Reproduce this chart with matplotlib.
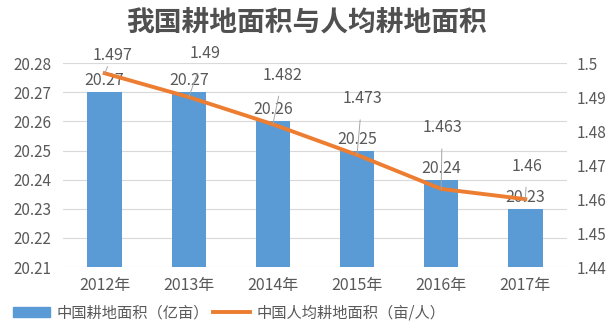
import numpy as np
import matplotlib
matplotlib.use("Agg")
import matplotlib.pyplot as plt

plt.rcParams['font.family'] = ['Noto Sans CJK SC', 'DejaVu Sans']

# data
years = ['2012年', '2013年', '2014年', '2015年', '2016年', '2017年']
area = [20.27, 20.27, 20.26, 20.25, 20.24, 20.23]          # 亿亩
per_capita = [1.497, 1.49, 1.482, 1.473, 1.463, 1.46]       # 亩/人
area_ticks = [20.21, 20.22, 20.23, 20.24, 20.25, 20.26, 20.27, 20.28]
pc_ticks = [1.44, 1.45, 1.46, 1.47, 1.48, 1.49, 1.5]

# label offsets for the line labels (pixels)
line_lbl_off = [(8, 18), (16, 44), (10, 49), (5, 56), (1, 61), (2, 33)]

blue = '#5B9BD5'
orange = '#ED7D31'
txt = '#595959'

fig = plt.figure(figsize=(6.14, 3.25), dpi=100)
ax = fig.add_axes([0.102, 0.178, 0.822, 0.628])
ax2 = ax.twinx()

x = np.arange(len(years))
ax.bar(x, area, width=0.41, color=blue, zorder=2)
ax.set_ylim(20.21, 20.28)
ax.set_yticks(area_ticks)
ax.set_yticklabels([f'{v:.2f}' for v in area_ticks])
ax.set_xlim(-0.5, len(years) - 0.5)
ax.set_xticks(x)
ax.set_xticklabels(years)
ax.grid(axis='y', color='#D9D9D9', linewidth=0.8, zorder=0)
ax.set_axisbelow(True)

ax2.plot(x, per_capita, color=orange, linewidth=2.8, zorder=3)
ax2.set_ylim(1.44, 1.5)
ax2.set_yticks(pc_ticks)
ax2.set_yticklabels([f'{v:g}' for v in pc_ticks])

for a in (ax, ax2):
    for s in a.spines.values():
        s.set_visible(False)
    a.tick_params(length=0, labelsize=11, colors=txt)
ax.tick_params(axis='x', labelsize=11.5, pad=7)
ax.tick_params(axis='y', pad=8)
ax2.tick_params(axis='y', pad=7)

# bar labels
for xi, v in zip(x, area):
    ax.annotate(f'{v:g}', (xi, v), xytext=(0, 3), textcoords='offset pixels',
                ha='center', va='bottom', fontsize=11.5, color=txt, zorder=4)

# line labels with leader lines
for xi, v, (dx, dy) in zip(x, per_capita, line_lbl_off):
    ax2.annotate(f'{v:g}', (xi, v), xytext=(dx, dy), textcoords='offset pixels',
                 ha='center', va='center', fontsize=11.5, color=txt, zorder=5,
                 arrowprops=dict(arrowstyle='-', color='#A6A6A6', lw=0.7,
                                 shrinkA=7, shrinkB=0))

fig.suptitle('我国耕地面积与人均耕地面积', y=0.975, fontsize=20,
             fontweight='bold', color='#505050')

h1 = plt.Rectangle((0, 0), 1, 1, color=blue)
h2 = plt.Line2D([0], [0], color=orange, linewidth=2.8)
fig.legend([h1, h2], ['中国耕地面积（亿亩）', '中国人均耕地面积（亩/人）'],
           loc='center left', bbox_to_anchor=(0.012, 0.037), ncol=2,
           frameon=False, fontsize=11, labelcolor=txt, handlelength=2.4,
           handleheight=0.55, columnspacing=0.3, handletextpad=0.4,
           borderaxespad=0)

fig.savefig('out.png', dpi=100, facecolor='white')
